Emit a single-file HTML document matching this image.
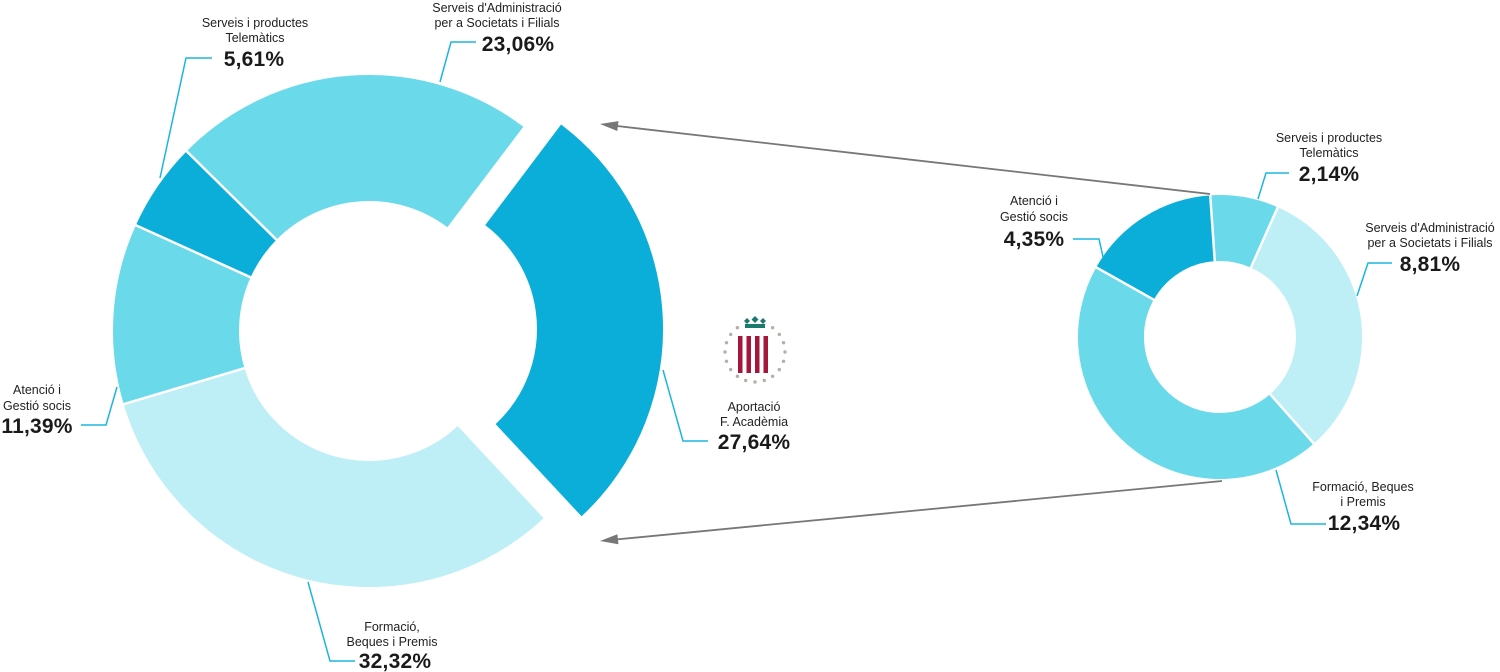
<!DOCTYPE html>
<html><head><meta charset="utf-8"><style>
html,body{margin:0;padding:0;background:#fff;}
svg{display:block;}
text{font-family:"Liberation Sans",Arial,sans-serif;fill:#222;text-anchor:middle;}
.l{font-size:12.5px;}
.p{font-size:21px;font-weight:bold;letter-spacing:0.2px;fill:#1a1a1a;}
.ld{stroke:#1db5e0;stroke-width:1.5;fill:none;}
</style></head><body>
<svg width="1500" height="672" viewBox="0 0 1500 672" xmlns="http://www.w3.org/2000/svg">
<g fill="none" stroke-width="126">
<circle cx="369" cy="331" r="193" stroke="#beeef6" stroke-dasharray="392.1 2000" transform="rotate(47 369 331)"/>
<circle cx="369" cy="331" r="193" stroke="#6ad9ea" stroke-dasharray="138.1 2000" transform="rotate(163.4 369 331)"/>
<circle cx="369" cy="331" r="193" stroke="#0baed8" stroke-dasharray="68 2000" transform="rotate(204.4 369 331)"/>
<circle cx="369" cy="331" r="193" stroke="#6ad9ea" stroke-dasharray="277.6 2000" transform="rotate(224.6 369 331)"/>
<g transform="translate(38,-2)"><circle cx="369" cy="331" r="193" stroke="#0baed8" stroke-dasharray="336.8 2000" transform="rotate(-53 369 331)"/></g>
</g>
<g stroke="#fff" stroke-width="2.5">
<line x1="244.4" y1="368.2" x2="120" y2="405.3"/>
<line x1="250.6" y1="277.3" x2="132" y2="223.5"/>
<line x1="276.4" y1="239.7" x2="184" y2="148.6"/>
</g>
<g fill="none" stroke-width="66">
<circle cx="1220" cy="337" r="109" stroke="#6ad9ea" stroke-dasharray="53.3 2000" transform="rotate(-94 1220 337)"/>
<circle cx="1220" cy="337" r="109" stroke="#beeef6" stroke-dasharray="218.2 2000" transform="rotate(-66 1220 337)"/>
<circle cx="1220" cy="337" r="109" stroke="#6ad9ea" stroke-dasharray="305.7 2000" transform="rotate(48.7 1220 337)"/>
<circle cx="1220" cy="337" r="109" stroke="#0baed8" stroke-dasharray="107.7 2000" transform="rotate(209.4 1220 337)"/>
</g>
<g stroke="#fff" stroke-width="2.5">
<line x1="1214.8" y1="261.2" x2="1210" y2="192"/>
<line x1="1250.9" y1="267.6" x2="1279" y2="204.5"/>
<line x1="1268.8" y1="392.6" x2="1316" y2="446"/>
<line x1="1155.5" y1="300.7" x2="1093.5" y2="265.8"/>
</g>
<g stroke="#777" stroke-width="1.8">
<line x1="1210" y1="194" x2="617" y2="126"/>
<line x1="1222" y1="481" x2="617" y2="539.4"/>
</g>
<polygon points="600,124 618.5,121.1 617.3,131" fill="#777"/>
<polygon points="600,541 618.4,544.3 617.4,534.3" fill="#777"/>
<polyline class="ld" points="160,178 186,58 212,58"/>
<polyline class="ld" points="440,82 451,42 476,42"/>
<polyline class="ld" points="117,387 106,425 81,425"/>
<polyline class="ld" points="308,582 330,661 355,661"/>
<polyline class="ld" points="663,370 683,441 708,441"/>
<polyline class="ld" points="1258,199 1266,173 1289,173"/>
<polyline class="ld" points="1103,257 1099,239 1073,239"/>
<polyline class="ld" points="1357,296 1368,263 1392,263"/>
<polyline class="ld" points="1276,470 1291,524 1326,524"/>
<text class="l" x="255" y="27">Serveis i productes</text>
<text class="l" x="255" y="42">Telemàtics</text>
<text class="p" x="254" y="66">5,61%</text>
<text class="l" x="497" y="12">Serveis d'Administració</text>
<text class="l" x="497" y="27">per a Societats i Filials</text>
<text class="p" x="518" y="51">23,06%</text>
<text class="l" x="37" y="394">Atenció i</text>
<text class="l" x="37" y="410">Gestió socis</text>
<text class="p" x="37" y="433">11,39%</text>
<text class="l" x="392" y="631">Formació,</text>
<text class="l" x="392" y="646">Beques i Premis</text>
<text class="p" x="395" y="668">32,32%</text>
<text class="l" x="754" y="411">Aportació</text>
<text class="l" x="754" y="426">F. Acadèmia</text>
<text class="p" x="754" y="449">27,64%</text>
<text class="l" x="1329" y="142">Serveis i productes</text>
<text class="l" x="1329" y="157">Telemàtics</text>
<text class="p" x="1329" y="181">2,14%</text>
<text class="l" x="1034" y="205">Atenció i</text>
<text class="l" x="1034" y="221">Gestió socis</text>
<text class="p" x="1034" y="246">4,35%</text>
<text class="l" x="1430" y="232">Serveis d'Administració</text>
<text class="l" x="1430" y="247">per a Societats i Filials</text>
<text class="p" x="1430" y="271">8,81%</text>
<text class="l" x="1363" y="491">Formació, Beques</text>
<text class="l" x="1363" y="506">i Premis</text>
<text class="p" x="1364" y="530">12,34%</text>
<g fill="#1a7a6e">
<rect x="745" y="324" width="20" height="4"/>
<polygon points="747,318 750,321 747,324 744,321"/>
<polygon points="755,316 758.5,319.5 755,323 751.5,319.5"/>
<polygon points="763,318 766,321 763,324 760,321"/>
</g>
<g fill="#a5173a">
<rect x="738" y="336" width="4.5" height="37"/>
<rect x="746.5" y="336" width="4.5" height="37"/>
<rect x="755" y="336" width="4.5" height="37"/>
<rect x="763.5" y="336" width="4.5" height="37"/>
</g>
<g fill="#b5afa6">
<circle cx="785" cy="352" r="1.7"/><circle cx="783.5" cy="361.3" r="1.7"/><circle cx="779.3" cy="369.6" r="1.7"/><circle cx="772.6" cy="376.3" r="1.7"/><circle cx="764.3" cy="380.5" r="1.7"/><circle cx="755" cy="382" r="1.7"/><circle cx="745.7" cy="380.5" r="1.7"/><circle cx="737.4" cy="376.3" r="1.7"/><circle cx="730.7" cy="369.6" r="1.7"/><circle cx="726.5" cy="361.3" r="1.7"/><circle cx="725" cy="352" r="1.7"/><circle cx="726.5" cy="342.7" r="1.7"/><circle cx="730.7" cy="334.4" r="1.7"/><circle cx="737.4" cy="327.7" r="1.7"/><circle cx="772.6" cy="327.7" r="1.7"/><circle cx="779.3" cy="334.4" r="1.7"/><circle cx="783.5" cy="342.7" r="1.7"/>
</g>
</svg>
</body></html>
